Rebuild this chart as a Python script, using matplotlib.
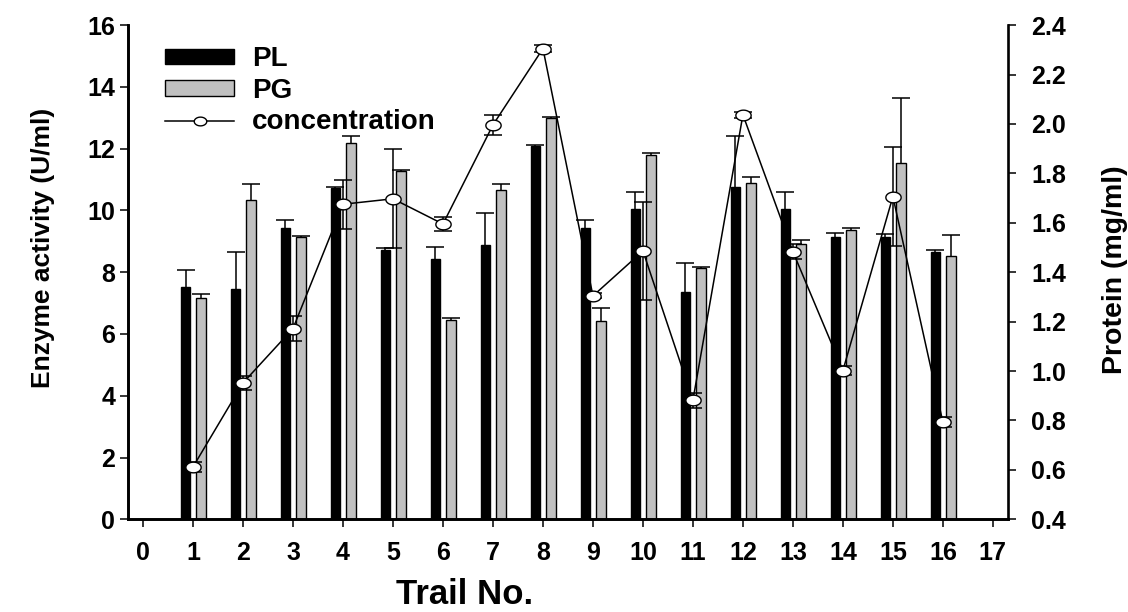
import matplotlib.pyplot as plt
from matplotlib.path import Path
from matplotlib.lines import Line2D
from matplotlib.patches import Patch
import numpy as np

plt.rcParams['font.family'] = ['Liberation Sans', 'DejaVu Sans']
plt.rcParams['font.weight'] = 'bold'

# data
trials = np.arange(1, 17)
pl = [7.52, 7.46, 9.42, 10.72, 8.73, 8.44, 8.89, 12.08, 9.42, 10.03, 7.36, 10.77, 10.03, 9.13, 9.13, 8.66]
pl_err = [0.56, 1.19, 0.27, 0.05, 0.05, 0.38, 1.02, 0.05, 0.27, 0.55, 0.93, 1.63, 0.55, 0.13, 0.12, 0.07]
pg = [7.16, 10.35, 9.14, 12.19, 11.27, 6.46, 10.67, 12.99, 6.41, 11.78, 8.15, 10.89, 8.91, 9.38, 11.53, 8.51]
pg_err = [0.14, 0.49, 0.04, 0.23, 0.03, 0.07, 0.20, 0.02, 0.43, 0.09, 0.03, 0.18, 0.14, 0.04, 2.12, 0.71]
conc = [0.612, 0.952, 1.172, 1.675, 1.697, 1.595, 1.996, 2.305, 1.304, 1.486, 0.882, 2.037, 1.483, 1.002, 1.706, 0.793]
conc_err = [0.02, 0.028, 0.049, 0.1, 0.2, 0.03, 0.04, 0.013, 0.01, 0.2, 0.03, 0.012, 0.03, 0.02, 0.2, 0.02]

xticks = np.arange(0, 18)
yticks_left = np.arange(0, 17, 2)
yticks_right = np.arange(0.4, 2.41, 0.2)

bw = 0.19
fig = plt.figure(figsize=(11.28, 6.12), dpi=100)
ax = fig.add_axes([0.1135, 0.1515, 0.78, 0.8075])
ax2 = ax.twinx()

# bars with upper error bars only
ax.bar(trials - 0.15, pl, bw, color='black', edgecolor='black', lw=1.0, zorder=2)
ax.bar(trials + 0.16, pg, bw, color='#c0c0c0', edgecolor='black', lw=1.0, zorder=2)
for xs, ys, es in [(trials - 0.15, pl, pl_err), (trials + 0.16, pg, pg_err)]:
    eb = ax.errorbar(xs, ys, yerr=[np.zeros(len(es)), es], fmt='none', ecolor='black',
                     elinewidth=1.1, capsize=6.8, capthick=1.1, zorder=3)
    eb[1][0].set_visible(False)

# concentration line on right axis (ellipse markers like the source)
theta = np.linspace(0, 2 * np.pi, 60)
ellipse = Path(np.column_stack([np.cos(theta), 0.7 * np.sin(theta)]), closed=True)
ax2.errorbar(trials, conc, yerr=conc_err, fmt='none', ecolor='black',
             elinewidth=1.1, capsize=6.8, capthick=1.1, zorder=2)
ax2.plot(trials, conc, color='black', lw=1.1, marker=ellipse, markersize=11,
         markerfacecolor='white', markeredgecolor='black', markeredgewidth=1.0, zorder=3)

ax.set_xlim(-0.3, 17.3)
ax.set_ylim(0, 16)
ax2.set_ylim(0.4, 2.4)
ax.set_xticks(xticks)
ax.set_yticks(yticks_left)
ax2.set_yticks(yticks_right)
ax2.set_yticklabels(['%.1f' % v for v in yticks_right])

for a in (ax, ax2):
    a.spines['top'].set_visible(False)
    for s in ('left', 'right', 'bottom'):
        a.spines[s].set_linewidth(1.9)
ax.spines['right'].set_visible(False)
ax.tick_params(axis='both', direction='out', length=5.8, width=1.1, labelsize=18)
ax.tick_params(axis='x', pad=10)
ax.tick_params(axis='y', pad=3.5)
ax2.tick_params(axis='y', direction='out', length=5.8, width=1.1, labelsize=18, pad=11)
for lbl in ax.get_xticklabels() + ax.get_yticklabels() + ax2.get_yticklabels():
    lbl.set_fontweight('bold')

ax.set_xlabel('Trail No.', fontsize=25, fontweight='bold')
ax.xaxis.set_label_coords(0.383, -0.118)
ax.set_ylabel('Enzyme activity (U/ml)', fontsize=19, fontweight='bold')
ax.yaxis.set_label_coords(-0.083, 0.55)
ax2.set_ylabel('Protein (mg/ml)', fontsize=20.5, fontweight='bold', rotation=90)
ax2.yaxis.set_label_coords(1.107, 0.505)

handles = [Patch(facecolor='black', edgecolor='black'),
           Patch(facecolor='#c0c0c0', edgecolor='black'),
           Line2D([], [], color='black', lw=1.1, marker=ellipse, markersize=9,
                  markerfacecolor='white', markeredgecolor='black')]
leg = ax2.legend(handles, ['PL', 'PG', 'concentration'], loc='upper left',
                 bbox_to_anchor=(0.042, 0.957), frameon=False, borderaxespad=0, borderpad=0,
                 prop={'size': 20, 'weight': 'bold'}, handlelength=2.5, handleheight=0.5,
                 labelspacing=0.2, handletextpad=0.62)

fig.savefig('out.png', dpi=100)
